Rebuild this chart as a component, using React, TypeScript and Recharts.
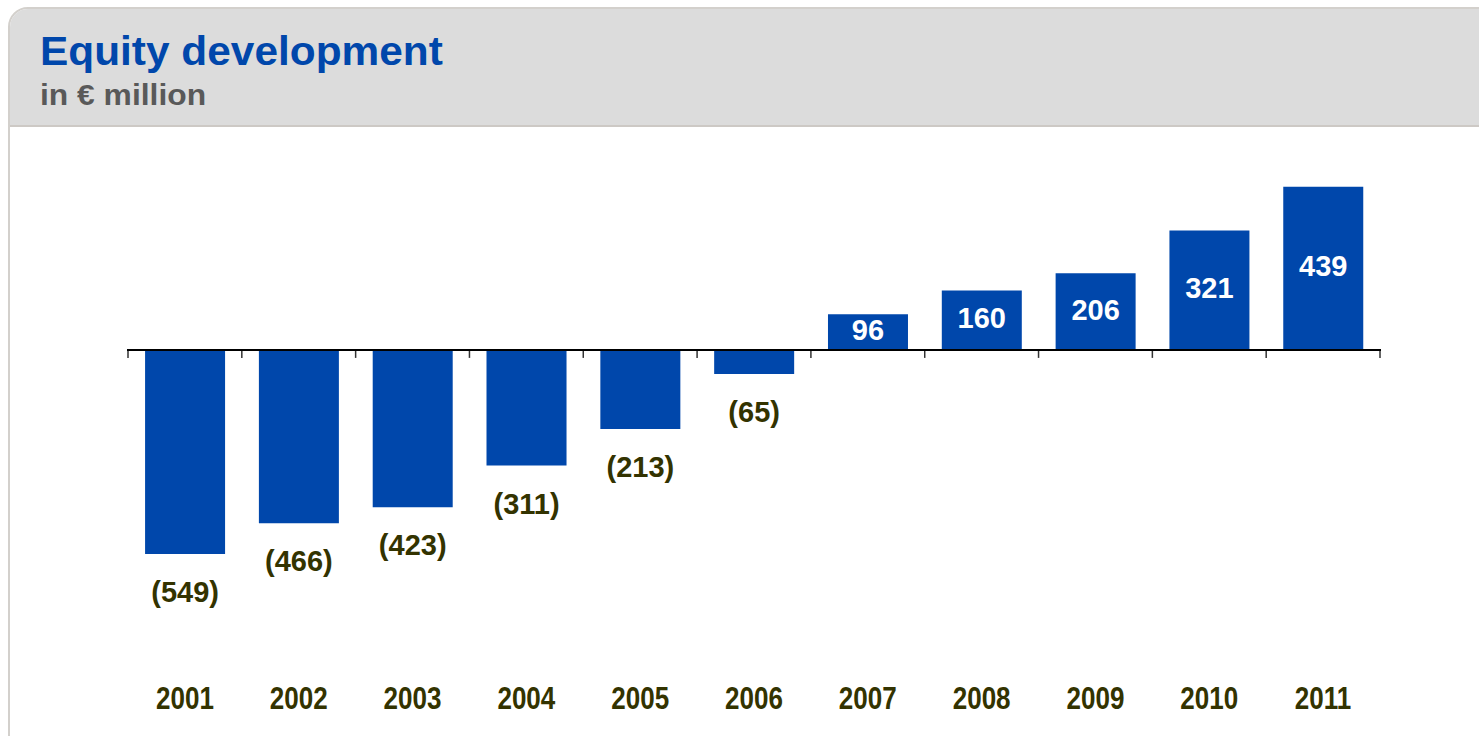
import React from "react";
import { BarChart, Bar, XAxis, YAxis, ReferenceLine, LabelList } from "recharts";

const years = ["2001", "2002", "2003", "2004", "2005", "2006", "2007", "2008", "2009", "2010", "2011"];
const equity = [-549, -466, -423, -311, -213, -65, 96, 160, 206, 321, 439];
const yDomain = [-600, 500];

const data = years.map((y, i) => ({ year: y, value: equity[i] }));

const FONT = "'Liberation Sans', Arial, Helvetica, sans-serif";
const BLUE = "#0047AB";
const OLIVE = "#333300";

const fmt = (v: number) => (v < 0 ? `(${Math.abs(v)})` : `${v}`);

const ValueLabel = (props: any) => {
  const { x, y, width, height, value } = props;
  const cx = Number(x) + Number(width) / 2;
  const top = Math.min(Number(y), Number(y) + Number(height));
  const bottom = Math.max(Number(y), Number(y) + Number(height));
  if (value >= 0) {
    return (
      <text x={cx} y={(top + bottom) / 2} dy={8} textAnchor="middle" fill="#ffffff" fontSize={29} fontWeight="bold" fontFamily={FONT}>
        {fmt(value)}
      </text>
    );
  }
  return (
    <text x={cx} y={bottom + 38} dy={10} textAnchor="middle" fill={OLIVE} fontSize={29} fontWeight="bold" fontFamily={FONT}>
      {fmt(value)}
    </text>
  );
};

const YearTick = (props: any) => {
  const { x, y, payload } = props;
  return (
    <g transform={`translate(${x},${y + 128})`}>
      <text transform="scale(0.84,1)" textAnchor="middle" fill={OLIVE} fontSize={31} fontWeight="bold" fontFamily={FONT}>
        {payload.value}
      </text>
    </g>
  );
};

const ZeroLine = (props: any) => {
  const { x1, y1, x2 } = props;
  const n = years.length;
  const step = (x2 - x1) / n;
  const ticks = [];
  for (let i = 0; i <= n; i++) {
    const tx = x1 + i * step;
    ticks.push(<line key={i} x1={tx} x2={tx} y1={y1} y2={y1 + 8} stroke="#333" strokeWidth={1.5} />);
  }
  return (
    <g>
      {ticks}
      <line x1={x1 - 1} x2={x2 + 1} y1={y1} y2={y1} stroke="#000" strokeWidth={2} />
    </g>
  );
};

export default function App() {
  return (
    <div style={{ position: "absolute", left: 0, top: 0, width: 1479, height: 736, overflow: "hidden", background: "#fff" }}>
      <div
        style={{
          position: "absolute",
          left: 8,
          top: 7,
          width: 1520,
          height: 800,
          border: "2px solid #d3d0cc",
          borderRadius: "20px 34px 0 0",
          background: "#fff",
          overflow: "hidden",
          boxSizing: "border-box",
        }}
      >
        <div style={{ height: 116, background: "#dcdcdc", borderBottom: "2px solid #cdc9c5" }} />
      </div>
      <div
        style={{
          position: "absolute",
          left: 40,
          top: 31,
          fontFamily: FONT,
          fontWeight: "bold",
          fontSize: 40,
          lineHeight: 1,
          color: BLUE,
          whiteSpace: "nowrap",
          transform: "scaleX(1.06)",
          transformOrigin: "left center",
        }}
      >
        Equity development
      </div>
      <div
        style={{
          position: "absolute",
          left: 40,
          top: 80,
          fontFamily: FONT,
          fontWeight: "bold",
          fontSize: 30,
          lineHeight: 1,
          color: "#595959",
          whiteSpace: "nowrap",
          transform: "scaleX(1.06)",
          transformOrigin: "left center",
        }}
      >
        in € million
      </div>
      <div style={{ position: "absolute", left: 0, top: 0 }}>
        <BarChart
          width={1479}
          height={736}
          data={data}
          margin={{ top: 164, right: 99, left: 128, bottom: 133 }}
          barCategoryGap="15%"
        >
          <XAxis dataKey="year" axisLine={false} tickLine={false} tick={<YearTick />} height={30} interval={0} />
          <YAxis hide domain={yDomain} />
          <Bar dataKey="value" fill={BLUE} isAnimationActive={false}>
            <LabelList dataKey="value" content={<ValueLabel />} />
          </Bar>
          <ReferenceLine y={0} shape={<ZeroLine />} ifOverflow="extendDomain" />
        </BarChart>
      </div>
    </div>
  );
}
